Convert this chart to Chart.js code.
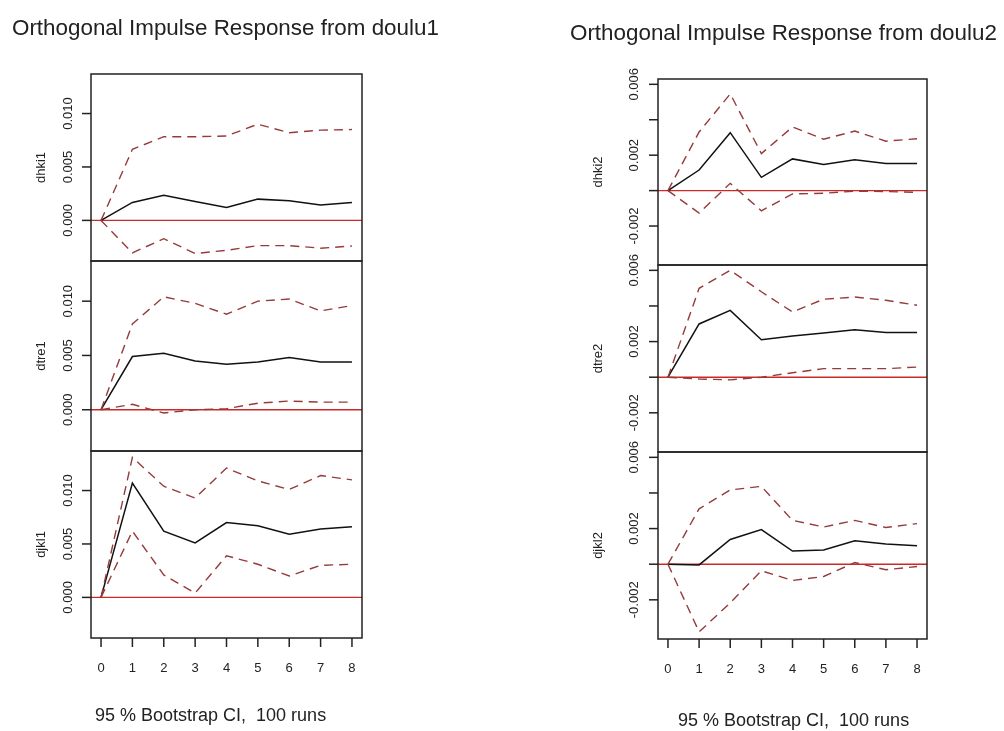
<!DOCTYPE html>
<html>
<head>
<meta charset="utf-8">
<title>Orthogonal Impulse Response</title>
<script src="https://cdn.jsdelivr.net/npm/chart.js@4.4.1/dist/chart.umd.min.js"></script>
<style>
  body { margin: 0; background: #fff; }
  #page { position: relative; width: 1004px; height: 731px; overflow: hidden;
          font-family: "Liberation Sans", Arial, sans-serif; color: #222; }
  #page canvas { position: absolute; left: 0; top: 0; }
  .txt { position: absolute; white-space: nowrap; line-height: 1; }
  .main { font-size: 22.4px; }
  .sub { font-size: 18px; }
</style>
</head>
<body>
<div id="page">
  <canvas id="p11" width="1004" height="731"></canvas>
  <canvas id="p12" width="1004" height="731"></canvas>
  <canvas id="p13" width="1004" height="731"></canvas>
  <canvas id="p21" width="1004" height="731"></canvas>
  <canvas id="p22" width="1004" height="731"></canvas>
  <canvas id="p23" width="1004" height="731"></canvas>
  <div class="txt main" style="left:12px;top:17px">Orthogonal Impulse Response from doulu1</div>
  <div class="txt main" style="left:570px;top:22px">Orthogonal Impulse Response from doulu2</div>
  <div class="txt sub" style="left:95px;top:706px">95 % Bootstrap CI,&nbsp; 100 runs</div>
  <div class="txt sub" style="left:678px;top:711px">95 % Bootstrap CI,&nbsp; 100 runs</div>
</div>
<script>
// horizon of the impulse responses
const steps = [0, 1, 2, 3, 4, 5, 6, 7, 8];

// shock: doulu1
const dhki1      = [0, 0.00168, 0.00236, 0.00177, 0.00121, 0.00199, 0.00183, 0.00143, 0.00168];
const dhki1Upper = [0, 0.00665, 0.00783, 0.00783, 0.00790, 0.00900, 0.00820, 0.00845, 0.00850];
const dhki1Lower = [0, -0.00304, -0.00171, -0.00310, -0.00280, -0.00236, -0.00236, -0.00260, -0.00240];

const dtre1      = [0, 0.0049, 0.0052, 0.0045, 0.0042, 0.0044, 0.0048, 0.0044, 0.0044];
const dtre1Upper = [0, 0.0079, 0.0104, 0.0098, 0.0088, 0.0100, 0.0102, 0.0091, 0.0096];
const dtre1Lower = [0, 0.0005, -0.0003, 0.0000, 0.0001, 0.0006, 0.0008, 0.0007, 0.0007];

const djkl1      = [0, 0.0107, 0.0062, 0.0051, 0.0070, 0.0067, 0.0059, 0.0064, 0.0066];
const djkl1Upper = [0, 0.0131, 0.0104, 0.0093, 0.0121, 0.0109, 0.0101, 0.0114, 0.0110];
const djkl1Lower = [0, 0.0062, 0.0021, 0.0004, 0.0039, 0.0031, 0.0020, 0.0030, 0.0031];

// shock: doulu2
const dhki2      = [0, 0.00116, 0.00327, 0.00075, 0.00179, 0.00148, 0.00174, 0.00153, 0.00153];
const dhki2Upper = [0, 0.00331, 0.00546, 0.00209, 0.00359, 0.00290, 0.00336, 0.00279, 0.00293];
const dhki2Lower = [0, -0.00127, 0.00041, -0.00114, -0.00019, -0.00015, -0.00003, -0.00005, -0.00010];

const dtre2      = [0, 0.00299, 0.00375, 0.00210, 0.00232, 0.00248, 0.00267, 0.00251, 0.00251];
const dtre2Upper = [0, 0.00499, 0.00600, 0.00480, 0.00366, 0.00438, 0.00450, 0.00432, 0.00404];
const dtre2Lower = [0, -0.00010, -0.00015, 0.00000, 0.00025, 0.00048, 0.00048, 0.00048, 0.00057];

const djkl2      = [0, -0.00004, 0.00139, 0.00194, 0.00074, 0.00080, 0.00131, 0.00113, 0.00104];
const djkl2Upper = [0, 0.00311, 0.00417, 0.00437, 0.00246, 0.00209, 0.00246, 0.00206, 0.00228];
const djkl2Lower = [0, -0.00380, -0.00217, -0.00037, -0.00091, -0.00069, 0.00009, -0.00031, -0.00013];

// axis ticks
const xTicks = [0, 1, 2, 3, 4, 5, 6, 7, 8];
const yTicks1 = [0, 0.005, 0.010];
const yLabels1 = ['0.000', '0.005', '0.010'];
const yTicks2 = [-0.002, 0, 0.002, 0.004, 0.006];
const yLabels2 = ['-0.002', '', '0.002', '', '0.006'];

const W = 1004, H = 731;
const FONT = '"Liberation Sans", Arial, sans-serif';
const INK = '#222';
const CI_COLOR = 'rgb(150, 58, 58)';
const ZERO_COLOR = 'rgb(205, 40, 40)';

function toPoints(values) {
  return steps.map((s, i) => ({ x: s, y: values[i] }));
}

// R-style frame, ticks and labels drawn from the chart's own scales
function rAxes(cfg) {
  return {
    id: 'rAxes',
    beforeDatasetsDraw(chart) {
      const { ctx, chartArea: a, scales: { y } } = chart;
      const y0 = y.getPixelForValue(0);
      ctx.save();
      ctx.strokeStyle = ZERO_COLOR;
      ctx.lineWidth = 1.4;
      ctx.beginPath();
      ctx.moveTo(a.left, y0);
      ctx.lineTo(a.right, y0);
      ctx.stroke();
      ctx.restore();
    },
    afterDraw(chart) {
      const { ctx, chartArea: a, scales: { x, y } } = chart;
      ctx.save();
      ctx.strokeStyle = INK;
      ctx.fillStyle = INK;
      ctx.lineWidth = 1.5;
      ctx.strokeRect(a.left, a.top, a.right - a.left, a.bottom - a.top);

      // y ticks and rotated labels
      ctx.font = '13px ' + FONT;
      ctx.textAlign = 'center';
      ctx.textBaseline = 'alphabetic';
      cfg.yTicks.forEach((v, i) => {
        const py = y.getPixelForValue(v);
        ctx.beginPath();
        ctx.moveTo(a.left, py);
        ctx.lineTo(a.left - 9, py);
        ctx.stroke();
        if (cfg.yLabels[i]) {
          ctx.save();
          ctx.translate(cfg.labelX, py);
          ctx.rotate(-Math.PI / 2);
          ctx.fillText(cfg.yLabels[i], 0, 0);
          ctx.restore();
        }
      });

      // variable name
      ctx.save();
      ctx.translate(cfg.titleX, (a.top + a.bottom) / 2);
      ctx.rotate(-Math.PI / 2);
      ctx.fillText(cfg.name, 0, 0);
      ctx.restore();

      // horizon axis on the bottom panel
      if (cfg.xAxis) {
        xTicks.forEach(v => {
          const px = x.getPixelForValue(v);
          ctx.beginPath();
          ctx.moveTo(px, a.bottom);
          ctx.lineTo(px, a.bottom + 9);
          ctx.stroke();
          ctx.fillText(String(v), px, a.bottom + 34);
        });
      }
      ctx.restore();
    }
  };
}

function panel(id, box, yMin, yMax, mid, upper, lower, cfg) {
  const ci = (data) => ({
    data: toPoints(data),
    borderColor: CI_COLOR,
    borderWidth: 1.4,
    borderDash: [9, 6],
    pointRadius: 0,
    tension: 0
  });
  new Chart(document.getElementById(id), {
    type: 'line',
    data: {
      datasets: [
        ci(upper),
        ci(lower),
        { data: toPoints(mid), borderColor: '#111', borderWidth: 1.5, pointRadius: 0, tension: 0 }
      ]
    },
    options: {
      responsive: false,
      animation: false,
      events: [],
      layout: { padding: { left: box[0], top: box[1], right: W - box[2], bottom: H - box[3] } },
      scales: {
        x: { type: 'linear', min: -0.32, max: 8.32, display: false },
        y: { type: 'linear', min: yMin, max: yMax, display: false }
      },
      plugins: { legend: { display: false }, tooltip: { enabled: false } }
    },
    plugins: [rAxes(cfg)]
  });
}

const L = { yMin: -0.0038, yMax: 0.0137 };
const R = { yMin: -0.0042, yMax: 0.0063 };
const left = { yTicks: yTicks1, yLabels: yLabels1, labelX: 72, titleX: 45 };
const right = { yTicks: yTicks2, yLabels: yLabels2, labelX: 638, titleX: 602 };

panel('p11', [91, 74, 362, 261], L.yMin, L.yMax, dhki1, dhki1Upper, dhki1Lower, { ...left, name: 'dhki1' });
panel('p12', [91, 261, 362, 451], L.yMin, L.yMax, dtre1, dtre1Upper, dtre1Lower, { ...left, name: 'dtre1' });
panel('p13', [91, 451, 362, 638], L.yMin, L.yMax, djkl1, djkl1Upper, djkl1Lower, { ...left, name: 'djkl1', xAxis: true });

panel('p21', [658, 79, 927, 265], R.yMin, R.yMax, dhki2, dhki2Upper, dhki2Lower, { ...right, name: 'dhki2' });
panel('p22', [658, 265, 927, 452], R.yMin, R.yMax, dtre2, dtre2Upper, dtre2Lower, { ...right, name: 'dtre2' });
panel('p23', [658, 452, 927, 639], R.yMin, R.yMax, djkl2, djkl2Upper, djkl2Lower, { ...right, name: 'djkl2', xAxis: true });
</script>
</body>
</html>
